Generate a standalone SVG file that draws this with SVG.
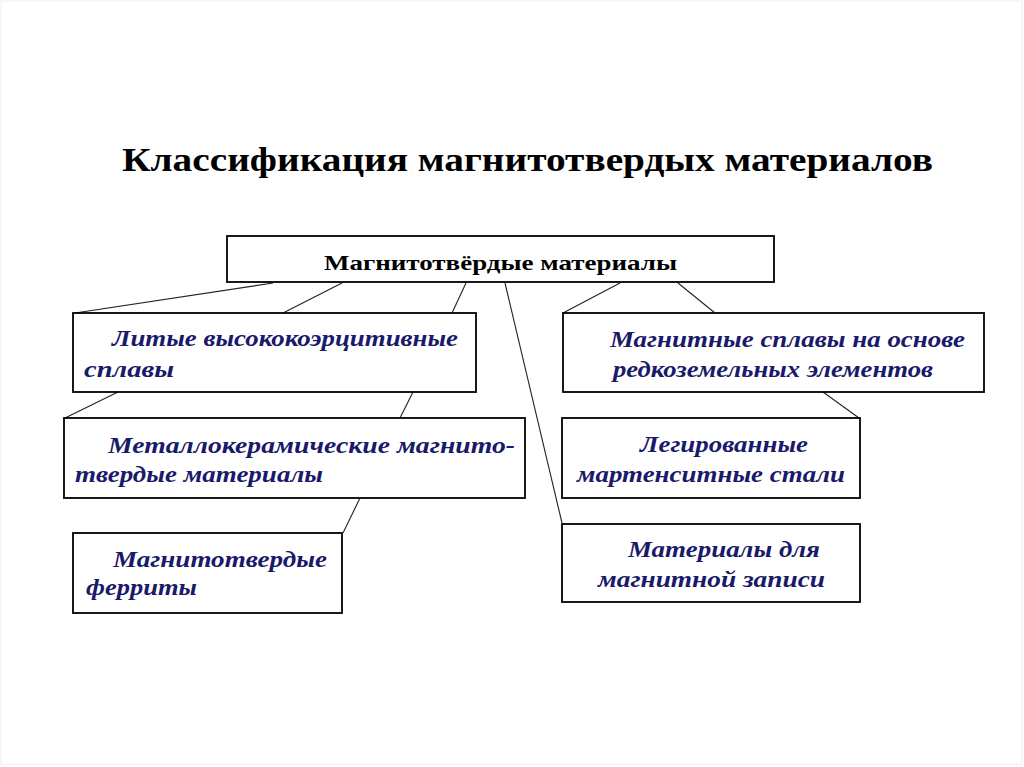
<svg xmlns="http://www.w3.org/2000/svg" width="1024" height="767" viewBox="0 0 1024 767">
<style>
.box{fill:#fff;stroke:#000;stroke-width:1.8}
.conn line{stroke:#222;stroke-width:1.1}
.t{font-family:"Liberation Serif","Times New Roman",serif;font-weight:bold;fill:#000}
.i{font-family:"Liberation Serif","Times New Roman",serif;font-weight:bold;font-style:italic;fill:#1a1a6a;font-size:23px}
</style>
<rect x="0" y="0" width="1024" height="767" fill="#fff"/>
<rect x="1" y="1" width="1021" height="763" fill="none" stroke="#f3f3f3" stroke-width="1.5"/>
<text class="t" x="122" y="171" font-size="34" textLength="811" lengthAdjust="spacingAndGlyphs">Классификация магнитотвердых материалов</text>
<g class="conn" id="connectors">
<line x1="273" y1="283" x2="75" y2="313"/>
<line x1="342" y1="283" x2="283" y2="313"/>
<line x1="466" y1="283" x2="452" y2="313"/>
<line x1="505" y1="283" x2="562" y2="523"/>
<line x1="620" y1="283" x2="563" y2="313"/>
<line x1="678" y1="283" x2="715" y2="313"/>
<line x1="118" y1="392" x2="65" y2="418"/>
<line x1="413" y1="392" x2="400" y2="418"/>
<line x1="360" y1="498" x2="343" y2="533"/>
<line x1="823" y1="392" x2="859" y2="418"/>
</g>
<g id="root">
<rect class="box" x="227" y="236" width="547" height="46"/>
<text class="t" x="324" y="270" font-size="22" textLength="353" lengthAdjust="spacingAndGlyphs">Магнитотвёрдые материалы</text>
</g>
<g id="cast">
<rect class="box" x="73" y="313" width="403" height="79"/>
<text class="i" x="112" y="346" textLength="346" lengthAdjust="spacingAndGlyphs">Литые высококоэрцитивные</text>
<text class="i" x="84" y="377" textLength="90" lengthAdjust="spacingAndGlyphs">сплавы</text>
</g>
<g id="metalceramic">
<rect class="box" x="64" y="418" width="461" height="80"/>
<text class="i" x="108" y="453" textLength="407" lengthAdjust="spacingAndGlyphs">Металлокерамические  магнито-</text>
<text class="i" x="75" y="482" textLength="248" lengthAdjust="spacingAndGlyphs">твердые материалы</text>
</g>
<g id="ferrites">
<rect class="box" x="73" y="533" width="269" height="80"/>
<text class="i" x="113" y="567" textLength="214" lengthAdjust="spacingAndGlyphs">Магнитотвердые</text>
<text class="i" x="86" y="595" textLength="111" lengthAdjust="spacingAndGlyphs">ферриты</text>
</g>
<g id="rareearth">
<rect class="box" x="563" y="313" width="421" height="79"/>
<text class="i" x="610" y="347" textLength="355" lengthAdjust="spacingAndGlyphs">Магнитные сплавы на основе</text>
<text class="i" x="613" y="377" textLength="320" lengthAdjust="spacingAndGlyphs">редкоземельных элементов</text>
</g>
<g id="martensitic">
<rect class="box" x="562" y="418" width="298" height="80"/>
<text class="i" x="640" y="452" textLength="168" lengthAdjust="spacingAndGlyphs">Легированные</text>
<text class="i" x="577" y="482" textLength="268" lengthAdjust="spacingAndGlyphs">мартенситные стали</text>
</g>
<g id="recording">
<rect class="box" x="562" y="524" width="298" height="78"/>
<text class="i" x="628" y="557" textLength="192" lengthAdjust="spacingAndGlyphs">Материалы для</text>
<text class="i" x="598" y="587" textLength="227" lengthAdjust="spacingAndGlyphs">магнитной записи</text>
</g>
</svg>
